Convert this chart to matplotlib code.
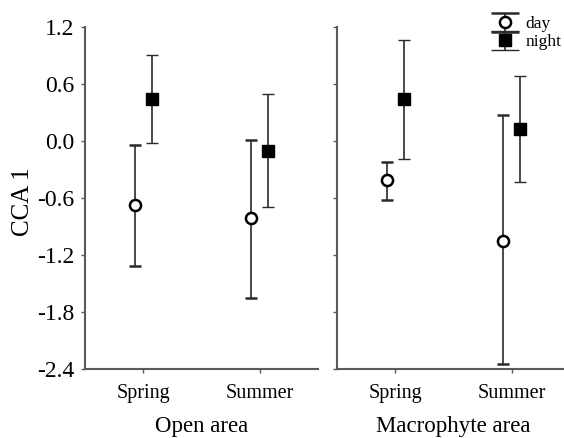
import matplotlib
matplotlib.use("Agg")
import matplotlib.pyplot as plt
from matplotlib.legend_handler import HandlerErrorbar
from matplotlib.lines import Line2D

plt.rcParams['font.family'] = ['Liberation Serif', 'DejaVu Serif']

seasons = ["Spring", "Summer"]
areas = ["Open area", "Macrophyte area"]
y_ticks = [1.2, 0.6, 0.0, -0.6, -1.2, -1.8, -2.4]

# mean, lower end, upper end of each error bar, per area (Spring, Summer)
day_mean = {"Open area": [-0.67, -0.81], "Macrophyte area": [-0.41, -1.05]}
day_low = {"Open area": [-1.32, -1.65], "Macrophyte area": [-0.62, -2.35]}
day_high = {"Open area": [-0.04, 0.01], "Macrophyte area": [-0.22, 0.27]}
night_mean = {"Open area": [0.44, -0.10], "Macrophyte area": [0.44, 0.13]}
night_low = {"Open area": [-0.02, -0.69], "Macrophyte area": [-0.19, -0.43]}
night_high = {"Open area": [0.91, 0.49], "Macrophyte area": [1.06, 0.68]}


class WideCapHandler(HandlerErrorbar):
    def create_artists(self, *args, **kwargs):
        artists = super().create_artists(*args, **kwargs)
        for a in artists:
            if isinstance(a, Line2D) and a.get_marker() == '_':
                a.set_markersize(20)
        return artists


W, H = 564, 438
fig = plt.figure(figsize=(W / 100, H / 100), dpi=100)
bottom = (H - 369) / H
height = 342 / H
ax_l = fig.add_axes([85 / W, bottom, 233 / W, height])
ax_r = fig.add_axes([337 / W, bottom, 233 / W, height])

spine_col = "#5a5a5a"
bar_col = "#2a2a2a"
offset = 0.075
x = [0, 1]

handles = None
for ax, area in zip([ax_l, ax_r], areas):
    dm, dl, dh = day_mean[area], day_low[area], day_high[area]
    nm, nl, nh = night_mean[area], night_low[area], night_high[area]
    d_err = [[m - l for m, l in zip(dm, dl)], [h - m for m, h in zip(dm, dh)]]
    n_err = [[m - l for m, l in zip(nm, nl)], [h - m for m, h in zip(nm, nh)]]
    e1 = ax.errorbar([xi - offset for xi in x], dm, yerr=d_err, fmt='o',
                     ms=8, mfc='white', mec='black', mew=1.8,
                     ecolor=bar_col, elinewidth=1.2, capsize=4, capthick=1.2,
                     label='day', zorder=3)
    e2 = ax.errorbar([xi + offset for xi in x], nm, yerr=n_err, fmt='s',
                     ms=8.5, mfc='black', mec='black', mew=1,
                     ecolor=bar_col, elinewidth=1.2, capsize=4, capthick=1.2,
                     label='night', zorder=3)
    handles = (e1, e2)
    ax.set_xlim(-0.5, 1.5)
    ax.set_ylim(-2.4, 1.2)
    ax.set_yticks(y_ticks)
    ax.set_xticks(x)
    ax.set_xticklabels(seasons, fontsize=14.5)
    ax.set_xlabel(area, fontsize=16.5, labelpad=9)
    for s in ["top", "right"]:
        ax.spines[s].set_visible(False)
    for s in ["left", "bottom"]:
        ax.spines[s].set_color(spine_col)
        ax.spines[s].set_linewidth(1.5)
    ax.tick_params(axis='both', direction='out', length=3, width=1,
                   color=spine_col)
    ax.tick_params(axis='y', labelsize=17, pad=5)
    ax.tick_params(axis='x', pad=8)
    ax.patch.set_visible(False)

ax_l.set_yticklabels([f"{v:.1f}" for v in y_ticks])
ax_l.set_ylabel("CCA 1", fontsize=18)
ax_l.yaxis.set_label_coords(-51 / 233, 0.49)
ax_r.tick_params(axis='y', labelleft=False)

fig.legend(handles, ["day", "night"], loc='upper right',
           bbox_to_anchor=(574 / W, 1 - 4 / H), frameon=False,
           fontsize=12.5, handlelength=1.4, handletextpad=0.5,
           labelspacing=0.1, borderpad=0.2,
           handler_map={type(handles[0]): WideCapHandler(yerr_size=0.55)})

fig.savefig("out.png", dpi=100)
